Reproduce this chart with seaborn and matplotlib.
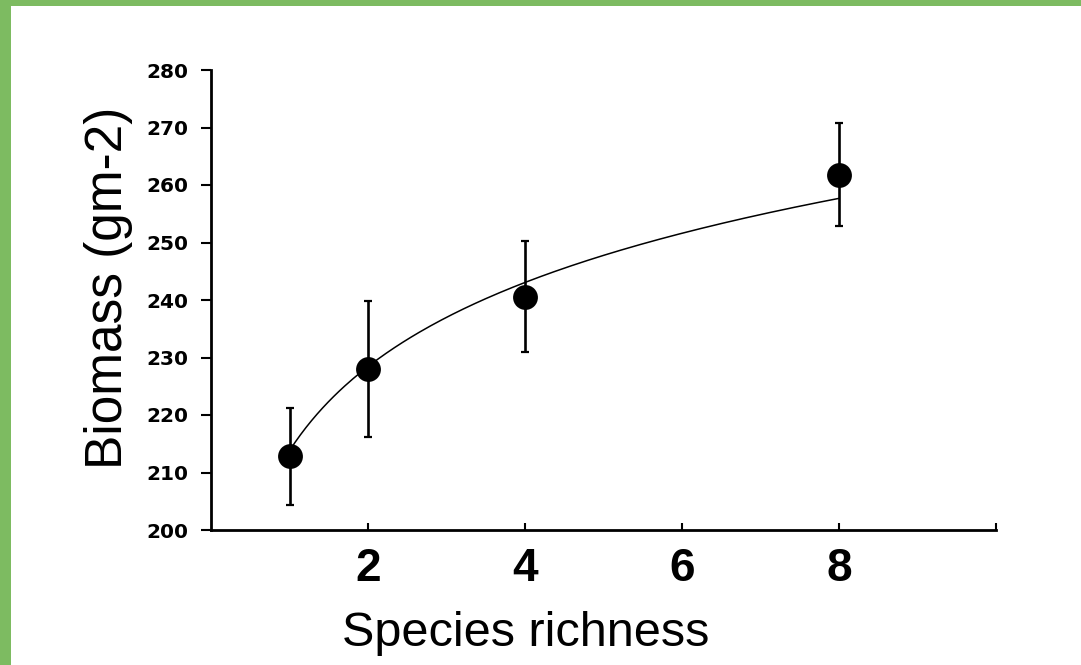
import matplotlib
matplotlib.use("Agg")
import matplotlib.pyplot as plt
import numpy as np
import pandas as pd
import seaborn as sns
from matplotlib.patches import Rectangle

# values
richness = [1, 2, 4, 8]
biomass_mean = [212.8, 228.0, 240.6, 261.8]
biomass_se = [8.4, 11.8, 9.6, 8.9]

# log fit drawn through the points: biomass = a + b * ln(richness)
fit_intercept = 213.8
fit_slope = 21.1

x_ticks = [2, 4, 6, 8, 10]
x_ticklabels = ["2", "4", "6", "8", ""]
y_ticks = [200, 210, 220, 230, 240, 250, 260, 270, 280]

x_label = "Species richness"
y_label = "Biomass (gm-2)"

green = "#7DBB61"

sns.set_theme(style="white")
plt.rcParams["font.family"] = ["Liberation Sans", "DejaVu Sans"]

df = pd.DataFrame({"richness": richness, "biomass": biomass_mean, "se": biomass_se})

curve_x = np.linspace(min(richness), max(richness), 200)
curve = pd.DataFrame({"richness": curve_x,
                      "biomass": fit_intercept + fit_slope * np.log(curve_x)})

fig = plt.figure(figsize=(10.81, 6.65), dpi=100, facecolor="white")
ax = fig.add_axes([211 / 1081, 1 - 530 / 665, 785 / 1081, 460 / 665])

# green frame on the left and top edge
fig.patches.append(Rectangle((0, 0), 11 / 1081, 1, transform=fig.transFigure,
                             facecolor=green, edgecolor="none", zorder=0))
fig.patches.append(Rectangle((0, 1 - 6 / 665), 1, 6 / 665, transform=fig.transFigure,
                             facecolor=green, edgecolor="none", zorder=0))

sns.lineplot(data=curve, x="richness", y="biomass", color="black", linewidth=1.1,
             ax=ax, zorder=2)
ax.errorbar(df["richness"], df["biomass"], yerr=df["se"], fmt="none", ecolor="black",
            elinewidth=1.9, capsize=2.6, capthick=1.6, zorder=3)
sns.scatterplot(data=df, x="richness", y="biomass", color="black", s=320,
                edgecolor="black", linewidth=0, ax=ax, zorder=4)

ax.set_xlim(0, 10)
ax.set_ylim(200, 280)
ax.set_xticks(x_ticks)
ax.set_xticklabels(x_ticklabels, fontsize=33, fontweight="bold")
ax.set_yticks(y_ticks)
ax.set_yticklabels([str(v) for v in y_ticks], fontsize=14.5, fontweight="bold",
                   family="DejaVu Sans")

ax.tick_params(axis="x", direction="in", length=5, width=1.5, pad=12, colors="black")
ax.tick_params(axis="y", direction="out", length=7.5, width=1.5, pad=9, left=True,
               colors="black")
ax.tick_params(axis="x", bottom=True)

sns.despine(ax=ax)
for side in ["left", "bottom"]:
    ax.spines[side].set_linewidth(2.0)
    ax.spines[side].set_color("black")

ax.set_xlabel(x_label, fontsize=35, color="black")
ax.set_ylabel(y_label, fontsize=37, color="black")
ax.xaxis.set_label_coords(0.401, -0.176)
ax.yaxis.set_label_coords(-0.099, 0.526)
ax.set_facecolor("white")

fig.savefig("out.png", dpi=100, facecolor="white")
